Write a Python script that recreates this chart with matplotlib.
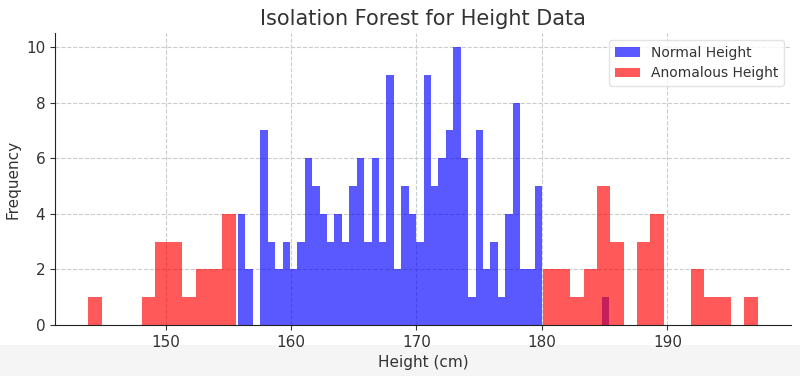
import numpy as np
import matplotlib
matplotlib.use("Agg")
import matplotlib.pyplot as plt
from matplotlib.patches import Rectangle

# counts per bin (50 bins each)
normal_range = (155.77, 185.36)
normal_counts = [4, 2, 0, 7, 3, 2, 3, 2, 3, 6,
                 5, 4, 3, 4, 3, 5, 6, 3, 6, 3,
                 9, 2, 5, 4, 3, 9, 5, 6, 7, 10,
                 6, 1, 7, 2, 3, 1, 4, 8, 2, 2,
                 5, 0, 0, 0, 0, 0, 0, 0, 0, 1]

anomaly_range = (143.85, 197.19)
anomaly_counts = [1, 0, 0, 0, 1, 3, 3, 1, 2, 2,
                  4, 0, 0, 0, 0, 0, 0, 0, 0, 0,
                  0, 0, 0, 0, 0, 0, 0, 0, 0, 0,
                  0, 0, 0, 0, 2, 2, 1, 2, 5, 3,
                  0, 3, 4, 0, 0, 2, 1, 1, 0, 1]

text_col = "#333333"
plt.rcParams["font.family"] = ["DejaVu Sans"]
plt.rcParams["text.color"] = text_col
plt.rcParams["axes.labelcolor"] = text_col
plt.rcParams["xtick.color"] = text_col
plt.rcParams["ytick.color"] = text_col

fig = plt.figure(figsize=(8, 3.76), dpi=100)
fig.patches.append(Rectangle((0, 0), 1, 31 / 376, transform=fig.transFigure,
                             facecolor="#f5f5f5", edgecolor="none", zorder=-10))
ax = fig.add_axes([55 / 800, 51 / 376, 736 / 800, 292 / 376])

n_edges = np.linspace(normal_range[0], normal_range[1], len(normal_counts) + 1)
a_edges = np.linspace(anomaly_range[0], anomaly_range[1], len(anomaly_counts) + 1)

ax.hist(n_edges[:-1], bins=n_edges, weights=normal_counts, color="blue",
        alpha=0.65, label="Normal Height")
ax.hist(a_edges[:-1], bins=a_edges, weights=anomaly_counts, color="red",
        alpha=0.65, label="Anomalous Height")

ax.set_title("Isolation Forest for Height Data", fontsize=15, color=text_col, pad=6)
ax.set_xlabel("Height (cm)", fontsize=11)
ax.set_ylabel("Frequency", fontsize=11)
ax.tick_params(labelsize=11)
ax.set_yticks([0, 2, 4, 6, 8, 10])
ax.grid(True, linestyle="--", color="#cccccc", linewidth=0.8)
ax.set_axisbelow(True)
for s in ["top", "right"]:
    ax.spines[s].set_visible(False)
for s in ["left", "bottom"]:
    ax.spines[s].set_color("#222222")
leg = ax.legend(loc="upper right", fontsize=10, frameon=True, handlelength=1.8)
leg.get_frame().set_edgecolor("#dddddd")

fig.savefig("out.png", dpi=100)
